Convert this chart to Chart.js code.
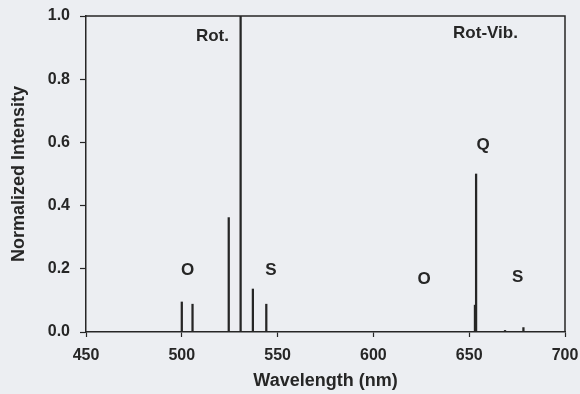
<!DOCTYPE html>
<html>
<head>
<meta charset="utf-8">
<script src="https://cdn.jsdelivr.net/npm/chart.js@4.4.1/dist/chart.umd.min.js"></script>
<style>
  html, body { margin: 0; padding: 0; background: #eceef2; }
  #wrap { width: 580px; height: 394px; }
</style>
</head>
<body>
<div id="wrap"><canvas id="chart" width="580" height="394"></canvas></div>
<script>
// emission lines (wavelength in nm, normalized intensity)
const wavelengths = [500.0, 505.6, 524.5, 530.7, 537.1, 544.1, 653.0, 653.6, 668.7, 678.3];
const intensities = [0.095, 0.088, 0.362, 1.0, 0.136, 0.088, 0.085, 0.50, 0.005, 0.014];

// branch labels: text, wavelength, intensity
const labelTexts = ['Rot.', 'O', 'S', 'Rot-Vib.', 'Q', 'O', 'S'];
const labelX = [516, 503, 546.5, 658.5, 657.2, 626.5, 675.3];
const labelY = [0.936, 0.195, 0.195, 0.945, 0.591, 0.167, 0.173];

const ink = '#262626';
const fontFamily = '"Liberation Sans", Arial, sans-serif';

const branchLabels = {
  id: 'branchLabels',
  afterDatasetsDraw(chart) {
    const { ctx, scales: { x, y } } = chart;
    ctx.save();
    ctx.fillStyle = ink;
    ctx.font = 'bold 17px ' + fontFamily;
    ctx.textAlign = 'center';
    ctx.textBaseline = 'middle';
    labelTexts.forEach((t, i) => {
      ctx.fillText(t, x.getPixelForValue(labelX[i]), y.getPixelForValue(labelY[i]));
    });
    ctx.restore();
  }
};

// top and right frame lines
const frame = {
  id: 'frame',
  afterDraw(chart) {
    const { ctx, chartArea: a } = chart;
    ctx.save();
    ctx.strokeStyle = ink;
    ctx.lineWidth = 1.5;
    ctx.beginPath();
    ctx.moveTo(a.left, a.top);
    ctx.lineTo(a.right, a.top);
    ctx.lineTo(a.right, a.bottom);
    ctx.stroke();
    ctx.restore();
  }
};

const points = wavelengths.map((w, i) => ({ x: w, y: intensities[i] }));

new Chart(document.getElementById('chart'), {
  type: 'bar',
  data: {
    datasets: [{
      data: points,
      backgroundColor: ink,
      barThickness: 1.6,
    }]
  },
  options: {
    responsive: false,
    animation: false,
    layout: { padding: { top: 16, right: 15, left: 0, bottom: 0 } },
    plugins: { legend: { display: false }, tooltip: { enabled: false } },
    scales: {
      x: {
        type: 'linear',
        min: 450,
        max: 700,
        offset: false,
        afterFit(scale) {
          scale.height = 62;
          scale.paddingLeft = 0;
          scale.paddingRight = 0;
        },
        grid: { offset: false, drawOnChartArea: false, tickLength: 5, tickColor: ink, tickWidth: 1.2 },
        border: { color: ink, width: 1.5 },
        ticks: {
          stepSize: 50,
          color: ink,
          padding: 9,
          maxRotation: 0,
          font: { family: fontFamily, size: 16, weight: 'bold' }
        },
        title: {
          display: true,
          text: 'Wavelength (nm)',
          color: ink,
          padding: { top: 0, bottom: 2 },
          font: { family: fontFamily, size: 18, weight: 'bold' }
        }
      },
      y: {
        min: 0,
        max: 1,
        afterFit(scale) {
          scale.width = 86;
          scale.paddingTop = 0;
          scale.paddingBottom = 0;
        },
        grid: { drawOnChartArea: false, tickLength: 6, tickColor: ink, tickWidth: 1.2 },
        border: { color: ink, width: 1.5 },
        ticks: {
          stepSize: 0.2,
          color: ink,
          padding: 10,
          callback: v => v.toFixed(1),
          font: { family: fontFamily, size: 16, weight: 'bold' }
        },
        title: {
          display: true,
          text: 'Normalized Intensity',
          color: ink,
          padding: { top: 8, bottom: 0 },
          font: { family: fontFamily, size: 18, weight: 'bold' }
        }
      }
    }
  },
  plugins: [branchLabels, frame]
});
</script>
</body>
</html>
